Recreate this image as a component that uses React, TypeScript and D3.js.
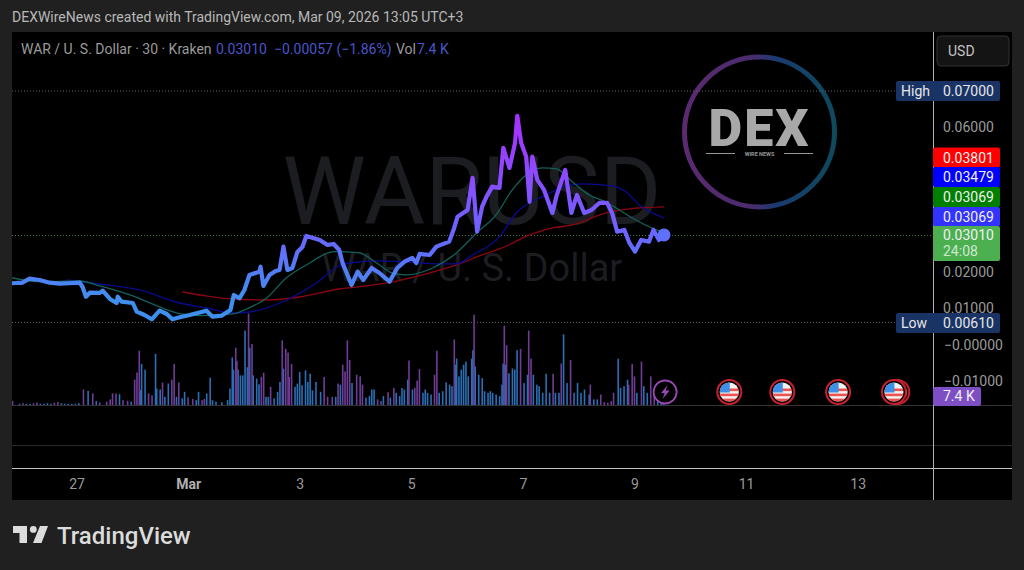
import React from "react";
import * as d3 from "d3";

// Days since Mar 1 and price (USD) of the close line
const priceDays = [-3.17,-3.08,-2.99,-2.85,-2.67,-2.49,-2.31,-2.13,-1.95,-1.9,-1.84,-1.77,-1.59,-1.54,-1.41,-1.29,-1.27,-1.2,-1,-0.93,-0.79,-0.66,-0.52,-0.39,-0.29,-0.16,0.02,0.32,0.43,0.59,0.75,0.81,0.91,1,1.09,1.27,1.29,1.34,1.45,1.56,1.63,1.7,1.77,1.86,1.95,2.04,2.11,2.35,2.49,2.6,2.7,2.76,2.92,3.03,3.13,3.28,3.42,3.6,3.74,3.87,4.01,4.08,4.14,4.32,4.44,4.67,4.76,4.82,5,5.09,5.17,5.26,5.34,5.44,5.57,5.64,5.75,5.85,5.89,5.96,6.05,6.11,6.16,6.25,6.37,6.52,6.59,6.75,6.86,6.96,7.09,7.22,7.36,7.5,7.59,7.68,7.81,7.9,8,8.11,8.25,8.33,8.43,8.52];
const priceValues = [.01691,.01699,.01699,.01818,.01782,.01707,.0168,.01691,.01707,.01588,.0132,.01431,.01423,.01486,.01257,.01146,.0132,.01182,.01146,.00906,.00815,.00696,.00934,.00843,.00696,.00751,.00815,.00934,.00768,.00796,.00953,.01367,.01276,.01506,.0192,.02011,.02149,.01616,.0192,.0203,.02058,.02702,.02058,.02113,.02555,.02693,.02997,.02887,.02749,.02776,.0261,.02251,.01644,.02011,.01782,.02113,.01975,.01735,.02113,.02287,.0239,.02251,.025,.02472,.02702,.0284,.03218,.0353,.03715,.04599,.03116,.03807,.04083,.04359,.04323,.05428,.04876,.05566,.06312,.05566,.05188,.03945,.05188,.04544,.04268,.03633,.04083,.0482,.03633,.0413,.03633,.03715,.03909,.03909,.03633,.03116,.03163,.02804,.02564,.02887,.0284,.03163,.02887,.03025];

const greenDays = [-3.17,-2.67,-1.95,-1.59,-1,-0.52,-0.13,0.2,0.79,1.04,1.4,1.75,2.11,2.61,3.06,3.37,3.65,3.9,4.37,4.8,5.16,5.51,5.8,6.05,6.34,6.59,6.88,7.18,7.48,7.72,7.95,8.38,8.52];
const greenValues = [.01845,.01735,.01754,.01616,.0134,.01036,.00843,.00796,.00843,.00981,.01285,.01837,.02196,.02564,.02528,.02251,.01975,.0192,.02113,.02528,.0308,.03577,.04268,.04682,.04876,.04848,.04489,.0413,.03936,.03715,.03494,.03163,.0308];

const blueDays = [-2.18,-1.59,-0.88,-0.16,0.32,0.79,1.09,1.68,2.29,2.7,2.88,3.42,3.9,4.49,4.8,5.09,5.57,5.87,6.11,6.41,6.77,7.05,7.59,7.84,8.08,8.52];
const blueValues = [.01782,.01671,.01506,.01146,.01008,.0087,.00898,.01174,.01699,.02169,.02251,.02307,.02279,.02224,.02224,.02472,.0297,.03633,.03909,.0413,.04378,.04434,.04378,.04213,.03854,.03494];

const redDays = [-0.11,0.32,0.79,1.4,1.99,2.7,3.19,3.65,4.19,4.8,5.26,5.62,6.11,6.52,6.88,7.48,7.9,8.52];
const redValues = [.0145,.0134,.01257,.01229,.01312,.01533,.01616,.01727,.0192,.02196,.02472,.02666,.03025,.03218,.03301,.03633,.03743,.03798];

// Volume in thousands: [30-minute bar number, volume]
const volPurple: [number, number][] = [[11,3.2],[20,1.5],[29,1.5],[32,2],[47,2],[50,2.5],[72,12.7],[80,9.5],[86,2.2],[92,2.7],[95,4.6],[97,9.5],[100,9.5],[106,4],[110,3.5],[116,20.8],[118,26.7],[120,44.5],[128,9.5],[131,8],[140,18.4],[148,20.8],[150,33.7],[154,18.4],[162,6.2],[166,4.9],[174,4],[176,4.9],[203,47],[204,36],[214,75],[217,50],[225,23],[227,26.5],[233,14.9],[243,53],[246,46],[248,43],[249,23],[251,33.7],[279,23],[282,6.7],[286,6.7],[291,17.6],[295,33],[297,27.5],[299,53],[301,37],[307,24.8],[310,23.5],[312,16.7],[325,4.6],[328,3.2],[334,10.5],[339,14],[352,36.5],[357,14],[359,20],[361,29.4],[374,24.8],[376,44.5],[391,53.7],[408,74],[434,65],[436,49],[448,46],[455,61],[457,38],[476,25.6],[483,34],[491,37],[508,16.7],[517,8.6],[520,2.4],[523,1.9],[526,3.2],[528,10],[541,16.7],[544,33.7],[546,23.5],[552,35.6],[560,23.5],[563,8.6]];
const volBlue: [number, number][] = [[17,1],[23,1],[26,1],[35,1],[38,1],[41,1.5],[44,1],[53,1.5],[56,1],[59,1],[62,1],[65,1],[68,1.5],[76,11.6],[83,3.2],[103,8.9],[113,2.7],[121,12],[122,33.7],[125,28.9],[134,41.9],[135,13.5],[138,12.7],[142,6.7],[145,17.6],[152,6.7],[157,5.4],[159,10.8],[169,4],[171,10.8],[178,9.5],[181,22.4],[183,4],[186,2.7],[191,2.2],[196,4],[198,13.5],[200,39],[201,29],[205,29],[207,24.3],[209,24.3],[211,61],[213,31],[215,47],[218,24.3],[221,21.6],[223,17],[229,6.7],[231,6.7],[236,5.4],[239,10.8],[241,18.9],[244,29.7],[254,14.9],[256,17.6],[258,27],[260,16.2],[263,28.4],[265,18.9],[267,25.7],[269,12],[272,18.9],[276,10.8],[289,6.7],[293,16.7],[303,18],[315,6],[318,7.3],[320,12.7],[322,12.7],[330,7.3],[336,6],[341,10],[344,7.3],[346,14],[348,12.7],[351,20.8],[355,12.7],[364,10],[366,12.7],[368,10],[371,8.6],[378,10],[381,11.3],[384,18.6],[387,16.7],[389,15.4],[392,33],[393,38],[395,23.5],[397,29],[399,33],[401,35.6],[403,23.5],[406,38],[407,45],[409,31.6],[412,24.8],[415,22],[417,11.3],[420,10],[422,11.3],[424,10],[427,8.6],[430,7.3],[432,16.7],[433,34],[435,33],[438,26],[441,30],[443,29],[445,45],[451,18],[454,24.8],[459,24.8],[462,16.7],[464,15.4],[467,10],[470,25.6],[473,10],[478,10],[481,10],[485,58],[488,18],[494,10],[497,18],[500,10],[503,12.7],[507,8.6],[511,4.6],[514,4.6],[532,38],[534,14],[537,15.4],[540,20.8],[548,10],[554,15.4],[557,10],[566,6],[569,3.2],[571,1.4]];

const dateTickDays = [-2, 0, 2, 4, 6, 8, 10, 12];
const dateTickLabels = ["27", "Mar", "3", "5", "7", "9", "11", "13"];
const priceTicks = [0.06, 0.02, 0.01, -0, -0.01];
const priceTickLabels = ["0.06000", "0.02000", "0.01000", "−0.00000", "−0.01000"];
const flagDays = [9.69, 10.64, 11.64, 12.7, 12.64];

const FONT = "Roboto, sans-serif";
const x = d3.scaleLinear().domain([-2, 8]).range([77, 635]);
const y = d3.scaleLinear().domain([0, 0.07]).range([344.5, 91]);
const yVol = d3.scaleLinear().domain([0, 82]).range([405, 305]);
const barDay = (n: number) => n / 48 - 3.384;

const linePath = (days: number[], vals: number[]) =>
  d3.line<number>().x((d) => x(d)).y((_, i) => y(vals[i])).curve(d3.curveLinear)(days) as string;
const smoothPath = (days: number[], vals: number[]) =>
  d3.line<number>().x((d) => x(d)).y((_, i) => y(vals[i])).curve(d3.curveMonotoneX)(days) as string;

function PriceTag({ y0, h, fill, label }: { y0: number; h: number; fill: string; label: string }) {
  return (
    <g>
      <rect x={933} y={y0} width={67} height={h} rx={2} fill={fill} />
      <text x={943} y={y0 + h / 2 + 5} fontSize={14} fill="#f0f0f0">{label}</text>
    </g>
  );
}

function NamedTag({ y0, name, value }: { y0: number; name: string; value: string }) {
  return (
    <g>
      <rect x={896} y={y0} width={104} height={20} rx={2} fill="#1a3365" />
      <text x={901} y={y0 + 15} fontSize={14} fill="#e6e6e6">{name}</text>
      <text x={943} y={y0 + 15} fontSize={14} fill="#e6e6e6">{value}</text>
    </g>
  );
}

function Flag({ day }: { day: number }) {
  const id = "flagClip" + Math.round(day * 100);
  return (
    <g transform={`translate(${x(day)},392)`}>
      <clipPath id={id}><circle r={9.6} /></clipPath>
      <circle r={12} fill="#000" stroke="#c8202e" strokeWidth={2} />
      <circle r={9.6} fill="#f2f2f2" />
      <g clipPath={`url(#${id})`}>
        <rect x={-10} y={-3.5} width={20} height={2.6} fill="#ef5350" />
        <rect x={-10} y={1.6} width={20} height={2.6} fill="#ef5350" />
        <rect x={-10} y={6.6} width={20} height={3.4} fill="#ef5350" />
        <rect x={-10} y={-10} width={10.5} height={10.5} fill="#3d8fe8" />
      </g>
    </g>
  );
}

export default function App() {
  const last = priceValues.length - 1;
  const ringGrad = [
    { o: "0%", c: "#5b2a70" }, { o: "45%", c: "#4a2c6e" }, { o: "60%", c: "#1b3a70" }, { o: "100%", c: "#0e4a5c" },
  ];
  return (
    <svg width={1024} height={570} style={{ position: "absolute", left: 0, top: 0 }} fontFamily={FONT}>
      <defs>
        <linearGradient id="priceGrad" gradientUnits="userSpaceOnUse" x1={0} x2={0} y1={y(0.0631)} y2={y(0.012)}>
          <stop offset="0%" stopColor="#a92fff" />
          <stop offset="35%" stopColor="#8a4dff" />
          <stop offset="65%" stopColor="#6a66ff" />
          <stop offset="100%" stopColor="#3f90ee" />
        </linearGradient>
        <linearGradient id="ringGrad" x1="0" x2="1" y1="0" y2="0">
          {ringGrad.map((s) => <stop key={s.o} offset={s.o} stopColor={s.c} />)}
        </linearGradient>
        <clipPath id="pane"><rect x={12} y={32} width={921} height={468} /></clipPath>
      </defs>
      <rect width={1024} height={570} fill="#202020" />
      <text x={12} y={22} fontSize={14} fill="#b8b8b8">DEXWireNews created with TradingView.com, Mar 09, 2026 13:05 UTC+3</text>
      <rect x={12} y={32} width={1000} height={468} fill="#000" />

      {/* watermarks */}
      <text x={472} y={224} textAnchor="middle" fontSize={94} fill="#1c1d20">WARUSD</text>
      <text x={472} y={281} textAnchor="middle" fontSize={38} fill="#1c1d20">WAR / U. S. Dollar</text>

      {/* logo */}
      <circle cx={759.5} cy={132} r={75} fill="none" stroke="url(#ringGrad)" strokeWidth={5} />
      <text x={759.5} y={146} textAnchor="middle" fontSize={52} fontWeight={900} fill="#a8a8a8" letterSpacing={2}>DEX</text>
      <rect x={706} y={153} width={29} height={1} fill="#999" />
      <rect x={784} y={153} width={29} height={1} fill="#999" />
      <text x={759.5} y={156} textAnchor="middle" fontSize={5.5} fontWeight={700} fill="#999">WIRE NEWS</text>

      {/* reference lines */}
      <line x1={12} x2={896} y1={y(0.07)} y2={y(0.07)} stroke="#666" strokeDasharray="1 2" />
      <line x1={12} x2={933} y1={y(0.0301)} y2={y(0.0301)} stroke="#4d7a4f" strokeDasharray="1 2" />
      <line x1={12} x2={896} y1={y(0.0061)} y2={y(0.0061)} stroke="#666" strokeDasharray="1 2" />

      <g clipPath="url(#pane)">
        {/* volume */}
        {volBlue.map(([n, v]) => (
          <rect key={"b" + n} x={x(barDay(n)) - 0.8} width={1.6} y={yVol(v)} height={yVol(0) - yVol(v)} fill="#2b6fb5" />
        ))}
        {volPurple.map(([n, v]) => (
          <rect key={"p" + n} x={x(barDay(n)) - 0.8} width={1.6} y={yVol(v)} height={yVol(0) - yVol(v)} fill="#6f3d96" />
        ))}

        {/* moving averages */}
        <path d={smoothPath(redDays, redValues)} fill="none" stroke="#8c0510" strokeWidth={1.3} />
        <path d={smoothPath(blueDays, blueValues)} fill="none" stroke="#0a0a90" strokeWidth={1.3} />
        <path d={smoothPath(greenDays, greenValues)} fill="none" stroke="#12615a" strokeWidth={1.3} />

        {/* price */}
        <path d={linePath(priceDays, priceValues)} fill="none" stroke="url(#priceGrad)" strokeWidth={4.2} strokeLinejoin="round" strokeLinecap="round" />
        <circle cx={x(priceDays[last])} cy={y(priceValues[last])} r={6.5} fill="#5f70ff" />
      </g>

      {/* events */}
      <g transform={`translate(${x(8.54)},392)`}>
        <circle r={11.5} fill="#000" stroke="#9a48b4" strokeWidth={1.8} />
        <path d="M2.5,-7 L-4,1 L-0.5,1 L-2.5,7 L4.5,-1.5 L0.5,-1.5 Z" fill="#9a48b4" />
      </g>
      {flagDays.map((d) => <Flag key={d} day={d} />)}

      {/* panes */}
      <line x1={12} x2={1012} y1={405.5} y2={405.5} stroke="#333" />
      <line x1={12} x2={1012} y1={445.5} y2={445.5} stroke="#2a2a2a" />
      <line x1={12} x2={1012} y1={468.5} y2={468.5} stroke="#c4c4c4" />
      <line x1={933.5} x2={933.5} y1={32} y2={500} stroke="#b0b0b0" />

      {/* date axis */}
      {dateTickDays.map((d, i) => (
        <text key={d} x={x(d)} y={489} textAnchor="middle" fontSize={14} fontWeight={dateTickLabels[i] === "Mar" ? 700 : 400} fill={dateTickLabels[i] === "Mar" ? "#b0b0b0" : "#9a9a9a"}>
          {dateTickLabels[i]}
        </text>
      ))}

      {/* price axis */}
      <rect x={937} y={36} width={72} height={30} rx={4} fill="#141414" stroke="#333" />
      <text x={948} y={56} fontSize={14} fill="#c4c4c4">USD</text>
      {priceTicks.map((t, i) => (
        <text key={priceTickLabels[i]} x={priceTickLabels[i].startsWith("−") ? 944 : 943} y={y(t) + 5} fontSize={14} fill="#9a9a9a">{priceTickLabels[i]}</text>
      ))}
      <NamedTag y0={81} name="High" value="0.07000" />
      <NamedTag y0={313} name="Low" value="0.00610" />
      <PriceTag y0={147.5} h={20} fill="#ff0000" label="0.03801" />
      <PriceTag y0={167} h={20} fill="#0000ff" label="0.03479" />
      <PriceTag y0={187} h={20} fill="#008000" label="0.03069" />
      <PriceTag y0={207} h={19.5} fill="#3333ff" label="0.03069" />
      <rect x={933} y={226} width={67} height={35} rx={2} fill="#4caf50" />
      <text x={943} y={240} fontSize={14} fill="#f0f0f0">0.03010</text>
      <text x={943} y={256} fontSize={14} fill="#cfe8d0">24:08</text>
      <rect x={933} y={387} width={48} height={19} rx={2} fill="#7e4fc4" />
      <text x={943} y={401} fontSize={14} fill="#f0f0f0">7.4 K</text>

      {/* legend */}
      <text x={21} y={54} fontSize={14} fill="#9a9a9a">WAR / U. S. Dollar · 30 · Kraken</text>
      <text x={216} y={54} fontSize={14} fill="#4b55c9">0.03010</text>
      <text x={274} y={54} fontSize={14} fill="#4b55c9">−0.00057 (−1.86%)</text>
      <text x={396} y={54} fontSize={14} fill="#9a9a9a">Vol</text>
      <text x={417} y={54} fontSize={14} fill="#4b55c9">7.4 K</text>

      {/* TradingView logo */}
      <g fill="#dcdcdc">
        <path d="M13,526 H27 V543 H19.5 V533 H13 Z" />
        <circle cx={33.3} cy={529.4} r={3.4} />
        <path d="M40,526 H48 L41.5,543 H33 Z" />
      </g>
      <text x={57} y={544} fontSize={24} fontWeight={500} fill="#dcdcdc">TradingView</text>
    </svg>
  );
}
